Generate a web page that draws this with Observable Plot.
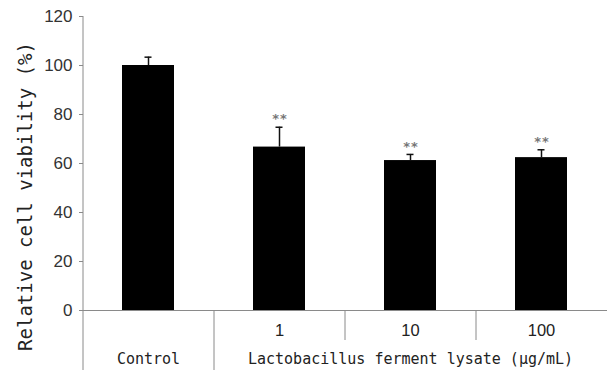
<!DOCTYPE html>
<html>
<head>
<meta charset="utf-8">
<script src="https://cdn.jsdelivr.net/npm/d3@7"></script>
<script src="https://cdn.jsdelivr.net/npm/@observablehq/plot@0.6"></script>
<style>
  html, body { margin: 0; padding: 0; background: #fff; }
</style>
</head>
<body>
<div id="chart"></div>
<script>
// ---- data ----
const categories = ["Control", "1", "10", "100"];
const means = [100, 66.7, 61.2, 62.4];
const errors = [3.4, 8.1, 2.5, 3.2];
const significance = ["", "**", "**", "**"];
const yTicks = [0, 20, 40, 60, 80, 100, 120];
const yLabel = "Relative cell viability (%)";
const groupLabel = "Lactobacillus ferment lysate (µg/mL)";
const controlLabel = "Control";

const data = categories.map((c, i) => ({cat: c, mean: means[i], err: errors[i], sig: significance[i]}));

// ---- layout ----
const W = 608, H = 370, mL = 83, mR = 1, mT = 16, mB = 60;
const plotH = H - mT - mB;
const step = (W - mL - mR) / categories.length;
const mono = "'DejaVu Sans Mono', monospace";
const sans = "'Liberation Sans', Arial, sans-serif";
const lineColor = "#8a8a8a";

const chart = Plot.plot({
  width: W,
  height: H,
  marginLeft: mL,
  marginRight: mR,
  marginTop: mT,
  marginBottom: mB,
  style: {fontFamily: sans, background: "#fff", color: "#222"},
  x: {type: "band", domain: categories, paddingInner: 0.6, paddingOuter: 0.3, axis: null},
  y: {domain: [0, 120], axis: null},
  marks: [
    Plot.axisY({ticks: yTicks, label: null, tickSize: 4, tickPadding: 7, fontSize: 17, stroke: lineColor, fill: "#333"}),
    // axis line (extends through the table)
    Plot.ruleX([categories[0]], {x: d => d, dx: -step / 2, insetBottom: -mB, stroke: lineColor}),
    // table dividers
    Plot.ruleX([categories[1]], {x: d => d, dx: -step / 2, insetTop: plotH, insetBottom: -mB, stroke: lineColor}),
    Plot.ruleX(categories.slice(2), {x: d => d, dx: -step / 2, insetTop: plotH, insetBottom: -mB / 2, stroke: lineColor}),
    Plot.barY(data, {x: "cat", y: "mean", fill: "#000"}),
    Plot.ruleY([0], {stroke: lineColor}),
    // error bars
    Plot.ruleX(data, {x: "cat", y1: "mean", y2: d => d.mean + d.err, stroke: "#111", strokeWidth: 1.5}),
    Plot.tickY(data, {x: "cat", y: d => d.mean + d.err, insetLeft: 22.5, insetRight: 22.5, stroke: "#111", strokeWidth: 1.5}),
    // significance
    Plot.text(data.filter(d => d.sig), {x: "cat", y: d => d.mean + d.err, text: "sig", dy: -8, fontSize: 13, fontWeight: "bold", fill: "#777", fontFamily: mono}),
    // table labels
    Plot.text(categories.slice(1), {x: d => d, frameAnchor: "bottom", dy: 25, fontSize: 16.5, fill: "#222", fontFamily: sans}),
    Plot.text([controlLabel], {x: () => categories[0], frameAnchor: "bottom", dy: 53, fontSize: 15, fill: "#222", fontFamily: mono}),
    Plot.text([groupLabel], {x: () => categories[2], frameAnchor: "bottom", dy: 53, fontSize: 15, fill: "#222", fontFamily: mono}),
    // y label
    Plot.text([yLabel], {frameAnchor: "left", textAnchor: "middle", dx: -58, dy: 33, rotate: -90, fontSize: 19, fill: "#222", fontFamily: mono})
  ]
});
document.getElementById("chart").appendChild(chart);
</script>
</body>
</html>
